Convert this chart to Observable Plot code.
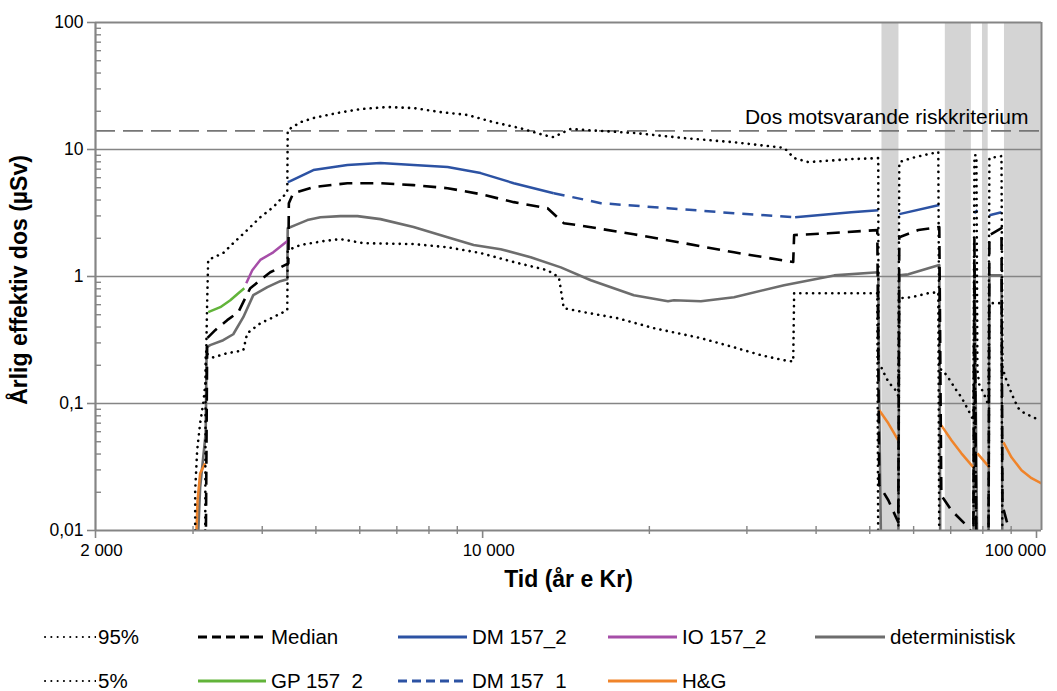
<!DOCTYPE html>
<html><head><meta charset="utf-8">
<script src="https://cdn.jsdelivr.net/npm/d3@7"></script>
<script src="https://cdn.jsdelivr.net/npm/@observablehq/plot@0.6"></script>
<style>
body{margin:0;background:#fff;font-family:"Liberation Sans",Arial,sans-serif;}
#wrap{position:relative;width:1057px;height:691px;overflow:hidden;}
.item{position:absolute;display:flex;align-items:center;font-size:20.5px;line-height:20px;color:#000;white-space:nowrap;height:20px;}
.item svg{display:block;}
#ytitle{position:absolute;left:19px;top:280px;transform:translate(-50%,-50%) rotate(-90deg);font-weight:bold;font-size:23px;white-space:nowrap;color:#000;}
</style></head><body><div id="wrap"></div>
<script>
// ---------------- data ----------------
const p95Year = [3027,3027,3052,3090,3130,3162,3182,3195,3401,3546,3758,3968,4188,4439,4447,4687,4948,5468,6017,6732,7503,8395,9395,10470,11710,12890,13440,14010,14420,16350,18750,23090,28440,35020,36510,38700,46290,51800,51850,52450,53560,54690,55380,56290,56530,59430,63790,66480,66760,68170,69610,71670,73180,75340,76920,77250,77900,78220,78870,80210,81220,81890,82220,86450,86810,88270,89370,91240,92790,95130,97950,100400];
const p95Dose = [0.005,0.0207,0.0428,0.0698,0.100,0.152,0.65,1.35,1.53,1.83,2.32,2.93,3.52,4.61,14.2,16.4,17.7,19.4,20.8,21.6,21.2,19.7,18.7,16.4,14.7,13.0,12.5,13.7,14.5,14.0,13.5,12.3,11.4,10.3,8.56,7.96,8.40,8.56,0.21,0.193,0.158,0.139,0.132,0.115,7.96,8.56,9.2,9.55,0.19,0.176,0.155,0.127,0.112,0.0884,0.0738,9.0,9.0,0.183,0.139,0.122,0.106,0.097,8.56,8.87,0.19,0.152,0.132,0.106,0.0917,0.0837,0.0793,0.0751];

const p5Year = [3155,3162,3263,3458,3697,3758,3968,4188,4439,4447,4687,5158,5536,6092,7503,8643,9917,11380,13100,13730,14010,15220,17540,20380,24780,28440,31830,35020,36370,36510,39180,51590,51800,56290,56530,59430,63790,66480,66760,76920,77250,77900,81890,82220,86450,86810];
const p5Dose = [0.005,0.249,0.231,0.249,0.262,0.357,0.428,0.478,0.543,1.61,1.77,1.90,1.97,1.83,1.80,1.70,1.53,1.30,1.12,0.986,0.563,0.524,0.469,0.392,0.327,0.277,0.24,0.219,0.214,0.739,0.739,0.739,0.005,0.005,0.675,0.686,0.739,0.752,0.005,0.005,0.65,0.005,0.005,0.617,0.617,0.005];

const detYear = [3046,3090,3162,3175,3221,3401,3546,3697,3854,4086,4312,4439,4447,4589,4826,5094,5536,5943,6539,7503,8643,9632,10779,12210,13840,15680,18750,21610,22150,24780,28440,35020,43120,51800,52010,52450,56290,56530,58700,63790,66760,67040,76920,77250,78220,81890,82220,86450,86810];
const detDose = [0.005,0.0219,0.0582,0.277,0.288,0.315,0.351,0.478,0.713,0.824,0.919,0.953,2.40,2.54,2.78,2.93,2.99,2.99,2.83,2.45,2.04,1.77,1.64,1.42,1.18,0.935,0.713,0.639,0.650,0.639,0.687,0.854,1.02,1.08,0.106,0.005,0.005,1.02,1.04,1.16,1.23,0.005,0.005,1.23,0.005,0.005,1.02,1.02,0.005];

const medYear = [3162,3182,3290,3458,3622,3727,3806,3968,4136,4312,4459,4468,4551,4948,5700,6539,7503,8643,9917,11380,13100,14010,14850,18750,23090,28440,36370,36510,42070,51590,52010,54010,56290,56530,61180,66760,67320,70210,75640,76920,77250,77900,81890,82220,86450,86810,88270,90860];
const medDose = [0.005,0.327,0.378,0.453,0.524,0.675,0.809,0.935,1.08,1.18,1.27,3.78,4.53,5.06,5.43,5.43,5.24,4.96,4.45,3.85,3.45,2.63,2.54,2.15,1.83,1.55,1.30,2.12,2.19,2.32,0.0227,0.0173,0.0116,2.04,2.32,2.45,0.0189,0.0144,0.0104,0.0089,2.04,0.005,0.005,2.12,2.40,0.0158,0.012,0.008];

const dm2Year = [4447,4495,4948,5700,6539,7503,8643,9917,11380,13440,null,36660,46290,51800,null,56530,66760,null,77250,78220,null,82220,86450];
const dm2Dose = [5.53,5.64,6.89,7.54,7.82,7.54,7.27,6.52,5.43,4.53,null,2.93,3.21,3.33,null,3.10,3.65,null,3.15,3.33,null,3.04,3.21];

const dm1Year = [13440,16350,21610,28440,36660];
const dm1Dose = [4.53,3.78,3.45,3.15,2.93];

const gpYear = [3195,3360,3503,3622,3713];
const gpDose = [0.524,0.573,0.65,0.738,0.809];

const ioYear = [3743,3838,3968,4188,4459];
const ioDose = [0.885,1.12,1.35,1.55,1.93];

const hgYear = [3040,3057,3090,3155,null,52010,54010,56290,null,67320,70210,73180,76920,null,78220,82220,null,87170,90120,93950,97950,102100];
const hgDose = [0.009,0.0173,0.0282,0.0338,null,0.0884,0.0698,0.0513,null,0.0673,0.0513,0.0405,0.0314,null,0.0405,0.0314,null,0.0494,0.0377,0.0298,0.0258,0.0235];

const bandStart = [52600, 68450, 79880, 87530];
const bandEnd   = [56450, 76280, 81800, 102100];

const riskDose = 14;
const riskLabel = "Dos motsvarande riskkriterium";

const xDomain = [2000, 102100];
const yDomain = [0.01, 100];
const xTickValues = [2000, 10000, 100000];
const xTickLabels = ["2 000", "10 000", "100 000"];
const xMinorTicks = [3000,4000,5000,6000,7000,8000,9000,20000,30000,40000,50000,60000,70000,80000,90000];
const yTickValues = [0.01, 0.1, 1, 10, 100];
const yTickLabels = ["0,01", "0,1", "1", "10", "100"];
const yGrid = [0.1, 1, 10];
const yMinorTicks = [];
[0.01, 0.1, 1, 10].forEach(d => { for (let k = 2; k <= 9; k++) yMinorTicks.push(+(d * k).toPrecision(3)); });

const xTitle = "Tid (år e Kr)";
const yTitle = "Årlig effektiv dos (µSv)";

// ---------------- build ----------------
const zip = (xs, ys) => xs.map((x, i) => ({year: x, dose: ys[i]}));
const BLUE = "#2c52a3";
const series = [
  {key: "det", label: "deterministisk", data: zip(detYear, detDose), stroke: "#6d6d6d", width: 2.6},
  {key: "hg", label: "H&G", data: zip(hgYear, hgDose), stroke: "#f0842a", width: 2.5},
  {key: "gp", label: "GP 157_2", data: zip(gpYear, gpDose), stroke: "#62b43a", width: 2.5},
  {key: "io", label: "IO 157_2", data: zip(ioYear, ioDose), stroke: "#a64ea8", width: 2.5},
  {key: "dm2", label: "DM 157_2", data: zip(dm2Year, dm2Dose), stroke: BLUE, width: 2.5},
  {key: "dm1", label: "DM 157_1", data: zip(dm1Year, dm1Dose), stroke: BLUE, width: 2.5, dash: "11,8"},
  {key: "med", label: "Median", data: zip(medYear, medDose), stroke: "#000", width: 2.6, dash: "13,8"},
  {key: "p95", label: "95%", data: zip(p95Year, p95Dose), stroke: "#000", width: 2.6, dash: "0.1,6.3", cap: "round"},
  {key: "p5", label: "5%", data: zip(p5Year, p5Dose), stroke: "#000", width: 2.6, dash: "0.1,6.3", cap: "round"}
];

const xLab = new Map(xTickValues.map((v, i) => [v, xTickLabels[i]]));
const yLab = new Map(yTickValues.map((v, i) => [v, yTickLabels[i]]));
const bands = bandStart.map((s, i) => ({start: s, end: bandEnd[i]}));
const AX = "#858585";

const chart = Plot.plot({
  width: 1057, height: 605,
  marginLeft: 95, marginRight: 16, marginTop: 22, marginBottom: 75,
  x: {type: "log", domain: xDomain, axis: null},
  y: {type: "log", domain: yDomain, axis: null},
  style: {fontFamily: '"Liberation Sans", Arial, sans-serif', fontSize: "17px", color: "#000", background: "#fff"},
  marks: [
    Plot.rect(bands, {x1: "start", x2: "end", fill: "#d4d4d4"}),
    Plot.ruleY(yGrid, {stroke: AX, strokeWidth: 1.6}),
    Plot.ruleY([riskDose], {stroke: "#767676", strokeWidth: 1.7, strokeDasharray: "20,8"}),
    Plot.text([riskLabel], {x: xDomain[1], y: riskDose, text: d => d, textAnchor: "end", dx: -13, dy: -14, fontSize: 21, fill: "#000"}),
    ...series.map(s => Plot.line(s.data, {
      x: "year", y: "dose", stroke: s.stroke, strokeWidth: s.width,
      strokeDasharray: s.dash, strokeLinecap: s.cap || "butt", strokeLinejoin: "round", clip: true
    })),
    Plot.ruleY([yDomain[1]], {stroke: AX, strokeWidth: 2}),
    Plot.ruleX([xDomain[1]], {stroke: AX, strokeWidth: 2}),
    Plot.ruleY([yDomain[0]], {stroke: AX, strokeWidth: 2.2}),
    Plot.ruleX([xDomain[0]], {stroke: AX, strokeWidth: 2.2}),
    // ticks
    Plot.axisY(yTickValues, {anchor: "left", label: null, tickSize: 8, tickFormat: () => "", stroke: AX, strokeWidth: 1.6}),
    Plot.axisY(yMinorTicks, {anchor: "left", label: null, tickSize: 6, dx: 6, tickFormat: () => "", stroke: AX, strokeWidth: 1.4}),
    Plot.axisX(xTickValues, {anchor: "bottom", label: null, tickSize: 8, tickFormat: () => "", stroke: AX, strokeWidth: 1.6}),
    Plot.axisX(xMinorTicks, {anchor: "bottom", label: null, tickSize: 8, dy: -4, tickFormat: () => "", stroke: AX, strokeWidth: 1.4}),
    // labels
    Plot.axisY(yTickValues, {anchor: "left", label: null, tickSize: 0, tickPadding: 12, tickFormat: d => yLab.get(d), fontSize: 17.5, fill: "#000"}),
    Plot.axisX(xTickValues.slice(0, 2), {anchor: "bottom", label: null, tickSize: 0, tickPadding: 13, tickFormat: d => xLab.get(d), fontSize: 17, fill: "#000", dx: 6}),
    Plot.axisX(xTickValues.slice(2), {anchor: "bottom", label: null, tickSize: 0, tickPadding: 13, tickFormat: d => xLab.get(d), fontSize: 17, fill: "#000", dx: -21}),
    Plot.text([xTitle], {frameAnchor: "bottom", text: d => d, dy: 56, fontWeight: "bold", fontSize: 23, fill: "#000"})
  ]
});
const wrap = document.getElementById("wrap");
wrap.appendChild(chart);

const yt = document.createElement("div");
yt.id = "ytitle";
yt.textContent = yTitle;
wrap.appendChild(yt);

// legend
const legendLayout = [
  ["p95", 42, 637, 54], ["med", 198, 637, 68], ["dm2", 398, 637, 69], ["io", 608, 637, 69], ["det", 815, 637, 70],
  ["p5", 42, 681, 54], ["gp", 198, 681, 68], ["dm1", 398, 681, 69], ["hg", 608, 681, 69]
];
legendLayout.forEach(([key, x, y, w]) => {
  const s = series.find(d => d.key === key);
  const div = document.createElement("div");
  div.className = "item";
  div.style.left = x + "px";
  div.style.top = (y - 10) + "px";
  const dotted = s.cap === "round";
  const dash = dotted ? "0.1,6.2" : (s.dash ? "9,5" : null);
  const sw = dotted ? 2 : 3;
  div.innerHTML = `<svg width="${w}" height="10"><line x1="${dotted ? 3 : 0}" x2="${w}" y1="5" y2="5" stroke="${s.stroke}" stroke-width="${sw}" ${dash ? `stroke-dasharray="${dash}"` : ""} stroke-linecap="${dotted ? "round" : "butt"}"/></svg><span style="margin-left:${dotted ? 2 : 5}px">${s.label.replace("&", "&amp;")}</span>`;
  wrap.appendChild(div);
});
</script>
</body></html>
